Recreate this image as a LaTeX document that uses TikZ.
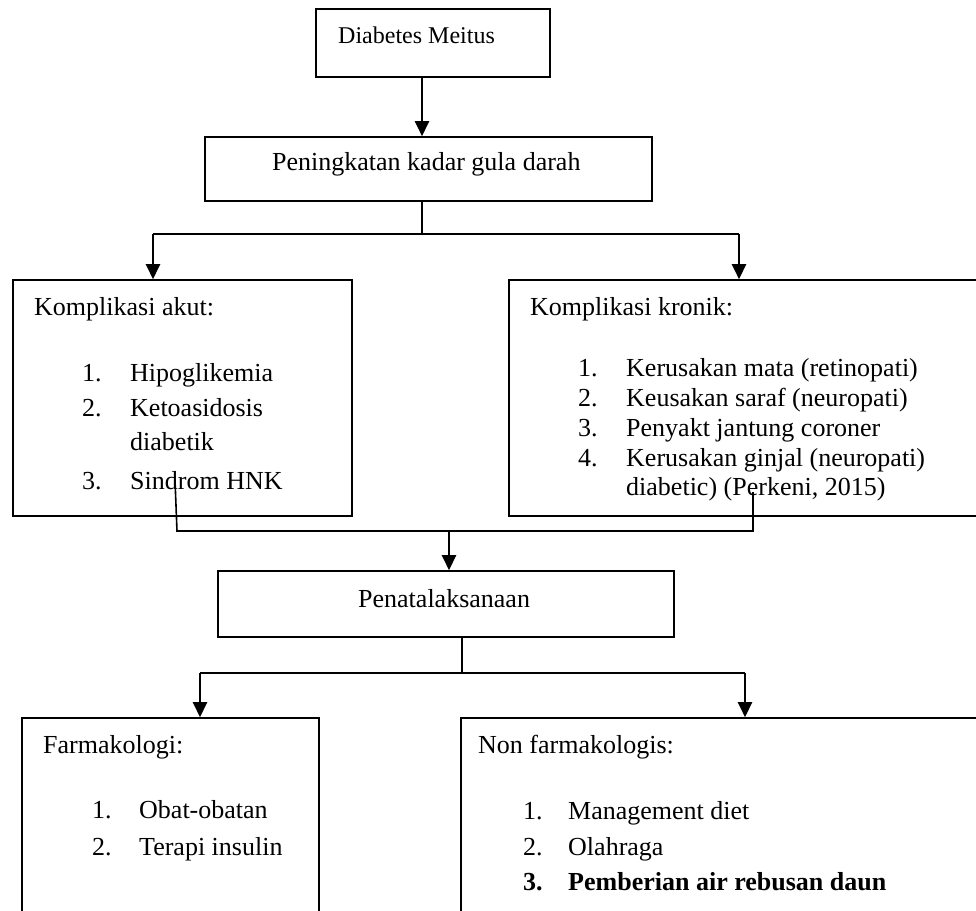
\documentclass[tikz,border=0pt]{standalone}
\usepackage{fontspec}
\setmainfont{Liberation Serif}
\usetikzlibrary{arrows.meta}

\tikzset{
  box/.style={draw, line width=1.6pt, rectangle, inner sep=0pt},
  arr/.style={line width=2.4pt, -{Triangle[width=14pt,length=15pt]}},
  conn/.style={line width=1.6pt},
  txt/.style={anchor=base west, inner sep=0pt, font=\fontsize{26}{30}\selectfont},
}

\begin{document}
\begin{tikzpicture}[x=1pt, y=-1pt]
    \useasboundingbox (0,0) rectangle (976,910);
    \clip (0,0) rectangle (976,910);

    % boxes
    \node[box, minimum width=234, minimum height=68] (dm) at (433,43) {};
    \node[box, minimum width=447, minimum height=64] (pkg) at (428.5,169) {};
    \node[box, minimum width=339, minimum height=236] (akut) at (182.5,398) {};
    \node[box, minimum width=491, minimum height=236] (kronik) at (754.5,398) {};
    \node[box, minimum width=456, minimum height=66] (pen) at (446,604) {};
    \node[box, minimum width=297, minimum height=222] (farm) at (170.5,829) {};
    \node[box, minimum width=539, minimum height=222] (nonf) at (730.5,829) {};

    % texts
    \node[txt, font=\fontsize{24}{28}\selectfont] (dm-t) at (338,43) {Diabetes Meitus};
    \node[txt] (pkg-t) at (272,170) {Peningkatan kadar gula darah};
    \node[txt] (pen-t) at (358,607) {Penatalaksanaan};

    \node[txt] (akut-h) at (34,315) {Komplikasi akut:};
    \foreach \n/\y/\t [count=\i] in {1./381/Hipoglikemia, 2./416/Ketoasidosis, /450/diabetik, 3./489/Sindrom HNK}{
        \node[txt] (akut-n\i) at (82,\y) {\n};
        \node[txt] (akut-t\i) at (130,\y) {\t};
    }

    \node[txt] (kronik-h) at (530,315) {Komplikasi kronik:};
    \foreach \n/\y/\t [count=\i] in {1./376/Kerusakan mata (retinopati), 2./406/Keusakan saraf (neuropati), 3./436/Penyakt jantung coroner, 4./466/Kerusakan ginjal (neuropati), /495/{diabetic) (Perkeni, 2015)}}{
        \node[txt] (kronik-n\i) at (578,\y) {\n};
        \node[txt] (kronik-t\i) at (626,\y) {\t};
    }

    \node[txt] (farm-h) at (43,753) {Farmakologi:};
    \foreach \n/\y/\t [count=\i] in {1./818/Obat-obatan, 2./855/Terapi insulin}{
        \node[txt] (farm-n\i) at (92,\y) {\n};
        \node[txt] (farm-t\i) at (139,\y) {\t};
    }

    \node[txt] (nonf-h) at (478,753) {Non farmakologis:};
    \node[txt] (nonf-n1) at (523,819) {1.};
    \node[txt] (nonf-t1) at (568,819) {Management diet};
    \node[txt] (nonf-n2) at (523,855) {2.};
    \node[txt] (nonf-t2) at (568,855) {Olahraga};
    \node[txt, font=\fontsize{26}{30}\selectfont\bfseries] (nonf-n3) at (523,890) {3.};
    \node[txt, font=\fontsize{26}{30}\selectfont\bfseries] (nonf-t3) at (568,890) {Pemberian air rebusan daun};

    % connectors
    \coordinate (j1) at (422,234);
    \coordinate (jl) at (153,234);
    \coordinate (jr) at (739,234);
    \draw[arr] (dm.south -| j1) -- (pkg.north -| j1);
    \draw[conn] (pkg.south -| j1) -- (j1);
    \draw[conn] (jl) -- (jr);
    \draw[arr] (jl) -- (akut.north -| jl);
    \draw[arr] (jr) -- (kronik.north -| jr);

    \coordinate (m1) at (175,480);
    \coordinate (m2) at (753,492);
    \coordinate (ml) at (177,531);
    \coordinate (mr) at (753,531);
    \coordinate (mc) at (449,531);
    \draw[conn] (m1) -- (ml) -- (mr) -- (m2);
    \draw[arr] (mc) -- (pen.north -| mc);

    \coordinate (l1) at (462,673);
    \coordinate (ll) at (200,673);
    \coordinate (lr) at (745,673);
    \draw[conn] (pen.south -| l1) -- (l1);
    \draw[conn] (ll) -- (lr);
    \draw[arr] (ll) -- (farm.north -| ll);
    \draw[arr] (lr) -- (nonf.north -| lr);
\end{tikzpicture}
\end{document}
